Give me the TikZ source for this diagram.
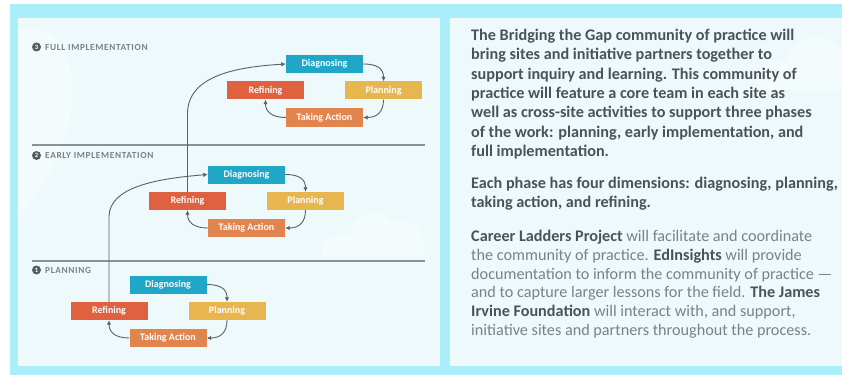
\documentclass[tikz,border=0pt]{standalone}
\usepackage{fontspec}
\setmainfont{Carlito}
\newfontfamily\spacedcaps[LetterSpace=7]{Carlito}
\usetikzlibrary{arrows.meta}
\definecolor{frame}{HTML}{A9EEF9}
\definecolor{panel}{HTML}{EEF9FC}
\definecolor{diag}{HTML}{20A7C8}
\definecolor{refi}{HTML}{E0613F}
\definecolor{plan}{HTML}{E8B64E}
\definecolor{act}{HTML}{E1844E}
\definecolor{ink}{HTML}{4D5257}
\definecolor{softink}{HTML}{7C8186}
\definecolor{rulegray}{HTML}{8C9196}
\definecolor{wire}{HTML}{596066}
\definecolor{badge}{HTML}{575C61}
\begin{document}
\begin{tikzpicture}[x=1pt,y=-1pt,
  stage/.style={minimum width=77pt, minimum height=18pt, inner sep=0pt,
    text=white, font=\fontsize{10}{12}\selectfont\bfseries},
  flow/.style={draw=wire, line width=0.9pt, -{Latex[length=4.5pt,width=4.5pt]}},
  divider/.style={draw=rulegray, line width=1.8pt},
  badgenum/.style={circle, fill=badge, text=white, inner sep=0pt, minimum size=9pt,
    font=\fontsize{6.5}{7}\selectfont\bfseries},
  phaselabel/.style={anchor=west, inner sep=0pt, text=softink,
    font=\spacedcaps\fontsize{9.3}{10}\selectfont\bfseries},
  cloud/.style={fill=white, opacity=0.35},
  para/.style={anchor=north west, inner sep=0pt, align=left}
]
\useasboundingbox (0,0) rectangle (842,377);
% frame and the two panels
\fill[white] (0,0) rectangle (842,377);
\fill[frame] (10,4) rectangle (842,375);
\fill[panel] (18,18) rectangle (440,366);
\fill[panel] (450,18) rectangle (842,366);

% faint clouds
\fill[cloud] (322,256) .. controls (318,238) and (335,230) .. (348,236)
  .. controls (352,212) and (380,205) .. (392,222)
  .. controls (410,214) and (428,230) .. (424,256) -- cycle;
\fill[cloud] (18,30) .. controls (60,20) and (80,60) .. (70,120) .. controls (60,170) and (30,200) .. (18,220) -- cycle;
\fill[cloud] (760,90) .. controls (750,70) and (770,55) .. (785,62)
  .. controls (792,35) and (830,30) .. (842,50) -- (842,90) -- cycle;

% phase dividers
\draw[divider] (32,145) -- (425,145);
\draw[divider] (32,261) -- (425,261);

% phase headings
\node[badgenum] (n3) at (36.5,47) {3};
\node[phaselabel] (h3) at (45,47) {FULL IMPLEMENTATION};
\node[badgenum] (n2) at (36.5,155.5) {2};
\node[phaselabel] (h2) at (45,155.5) {EARLY IMPLEMENTATION};
\node[badgenum] (n1) at (36.5,270) {1};
\node[phaselabel] (h1) at (45,270) {PLANNING};

% the four-step cycle of each phase
\foreach \i/\cx/\cy in {1/168/284.5, 2/246.5/174.5, 3/324.5/64}{
  \node[stage, fill=diag] (d\i) at (\cx,\cy) {Diagnosing};
  \node[stage, fill=plan] (p\i) at (\cx+59,\cy+26.5) {Planning};
  \node[stage, fill=act]  (t\i) at (\cx,\cy+53.5) {Taking Action};
  \node[stage, fill=refi] (r\i) at (\cx-59,\cy+26.5) {Refining};
  \draw[flow] (d\i.east) .. controls +(15,0) and +(0,-12) .. (p\i.north);
  \draw[flow] (p\i.south) .. controls +(0,12) and +(14,0) .. (t\i.east);
  \draw[flow] (t\i.west) .. controls +(-14,0) and +(0,12) .. (r\i.south);
}

% refining leads into the next phase
\draw[flow] (r1.north) -- ++(0,-85) .. controls +(0,-30) and +(-50,4) .. (d2.west);
\draw[flow] (r2.north) -- ++(0,-78) .. controls +(0,-38) and +(-50,3) .. (d3.west);

% description
\node[para, text=ink, font=\fontsize{16.2}{19.3}\selectfont\bfseries] (intro) at (471,29) {%
The Bridging the Gap community of practice will\\
bring sites and initiative partners together to\\
support inquiry and learning. This community of\\
practice will feature a core team in each site as\\
well as cross-site activities to support three phases\\
of the work: planning, early implementation, and\\
full implementation.};
\node[para, text=ink, font=\fontsize{16.2}{19.3}\selectfont\bfseries] (dims) at (471,177) {%
Each phase has four dimensions: diagnosing, planning,\\
taking action, and refining.};
\node[para, text=softink, font=\fontsize{16.2}{18.8}\selectfont] (roles) at (471,230) {%
\textcolor{ink}{\bfseries Career Ladders Project} will facilitate and coordinate\\
the community of practice. \textcolor{ink}{\bfseries EdInsights} will provide\\
documentation to inform the community of practice —\\
and to capture larger lessons for the field. \textcolor{ink}{\bfseries The James}\\
\textcolor{ink}{\bfseries Irvine Foundation} will interact with, and support,\\
initiative sites and partners throughout the process.};
\end{tikzpicture}
\end{document}
